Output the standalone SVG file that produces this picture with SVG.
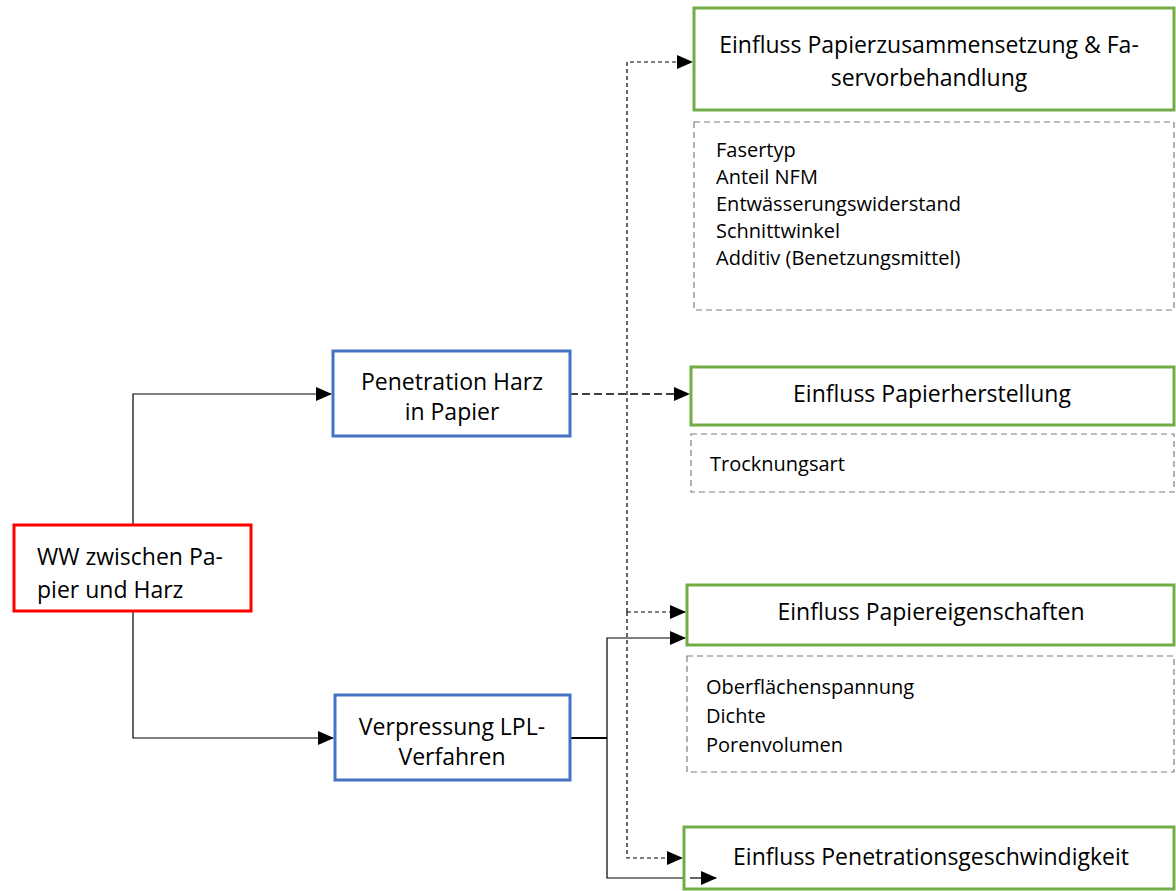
<svg xmlns="http://www.w3.org/2000/svg" width="1176" height="891" viewBox="0 0 1176 891">
<defs>
<marker id="arrL" markerWidth="16" markerHeight="14" refX="15" refY="7" orient="auto" markerUnits="userSpaceOnUse">
<path d="M0,0 L16,7 L0,14 z" fill="#000"/>
</marker>
<style>
text{font-family:"Open Sans","Noto Sans",sans-serif;fill:#000}
.t{font-size:23px}
.l{font-size:20px}
.green{fill:#fff;stroke:#70AD47;stroke-width:3}
.blue{fill:#fff;stroke:#4472C4;stroke-width:3}
.red{fill:#fff;stroke:#FF0000;stroke-width:3}
.gray{fill:#fff;stroke:#7F7F7F;stroke-width:1.2;stroke-dasharray:6,4}
.solid{fill:none;stroke:#000;stroke-width:1.2}
.dash{fill:none;stroke:#000;stroke-width:1.2;stroke-dasharray:4,3}
.dashb{fill:none;stroke:#000;stroke-width:1.6;stroke-dasharray:8,4}
</style>
</defs>
<g id="connectors">
<path class="solid" d="M133,525 V394 H331" marker-end="url(#arrL)"/>
<path class="solid" d="M133,611 V738 H333" marker-end="url(#arrL)"/>
<path class="dashb" d="M570,394 H689" marker-end="url(#arrL)"/>
<path class="dash" d="M627,612 V62 H692" marker-end="url(#arrL)"/>
<path class="dash" d="M627,612 H685" marker-end="url(#arrL)"/>
<path class="dash" d="M627,612 V858 H682" marker-end="url(#arrL)"/>
<path class="solid" d="M570,738 H607" style="stroke-width:2"/>
<path class="solid" d="M607,738 V638 H685" marker-end="url(#arrL)"/>
<path class="solid" d="M607,738 V878 H716" marker-end="url(#arrL)"/>
</g>
<g id="ww">
<rect class="red" x="14" y="525" width="237" height="86"/>
<text class="t" x="37" y="565">WW zwischen Pa-</text>
<text class="t" x="37" y="598">pier und Harz</text>
</g>
<g id="penetration">
<rect class="blue" x="333" y="351" width="237" height="85"/>
<text class="t" x="452" y="390" text-anchor="middle">Penetration Harz</text>
<text class="t" x="452" y="420" text-anchor="middle">in Papier</text>
</g>
<g id="verpressung">
<rect class="blue" x="335" y="695" width="235" height="85"/>
<text class="t" x="452" y="735" text-anchor="middle">Verpressung LPL-</text>
<text class="t" x="452" y="765" text-anchor="middle">Verfahren</text>
</g>
<g id="zusammensetzung">
<rect class="green" x="694" y="8" width="480" height="102"/>
<text class="t" x="929" y="53" text-anchor="middle">Einfluss Papierzusammensetzung &amp; Fa-</text>
<text class="t" x="929" y="86" text-anchor="middle">servorbehandlung</text>
</g>
<g id="zusammensetzung-list">
<rect class="gray" x="694" y="122" width="480" height="188"/>
<text class="l" x="716" y="157">Fasertyp</text>
<text class="l" x="716" y="184">Anteil NFM</text>
<text class="l" x="716" y="211">Entwässerungswiderstand</text>
<text class="l" x="716" y="238">Schnittwinkel</text>
<text class="l" x="716" y="265">Additiv (Benetzungsmittel)</text>
</g>
<g id="herstellung">
<rect class="green" x="691" y="367" width="483" height="58"/>
<text class="t" x="932" y="402" text-anchor="middle">Einfluss Papierherstellung</text>
</g>
<g id="herstellung-list">
<rect class="gray" x="691" y="434" width="483" height="58"/>
<text class="l" x="710" y="471">Trocknungsart</text>
</g>
<g id="eigenschaften">
<rect class="green" x="687" y="585" width="487" height="60"/>
<text class="t" x="931" y="620" text-anchor="middle">Einfluss Papiereigenschaften</text>
</g>
<g id="eigenschaften-list">
<rect class="gray" x="687" y="656" width="487" height="116"/>
<text class="l" x="706" y="694">Oberflächenspannung</text>
<text class="l" x="706" y="723">Dichte</text>
<text class="l" x="706" y="752">Porenvolumen</text>
</g>
<g id="geschwindigkeit">
<rect class="green" x="684" y="827" width="490" height="62"/>
<text class="t" x="931" y="865" text-anchor="middle">Einfluss Penetrationsgeschwindigkeit</text>
</g>
<path class="solid" d="M690,878 H716" marker-end="url(#arrL)"/>
</svg>
